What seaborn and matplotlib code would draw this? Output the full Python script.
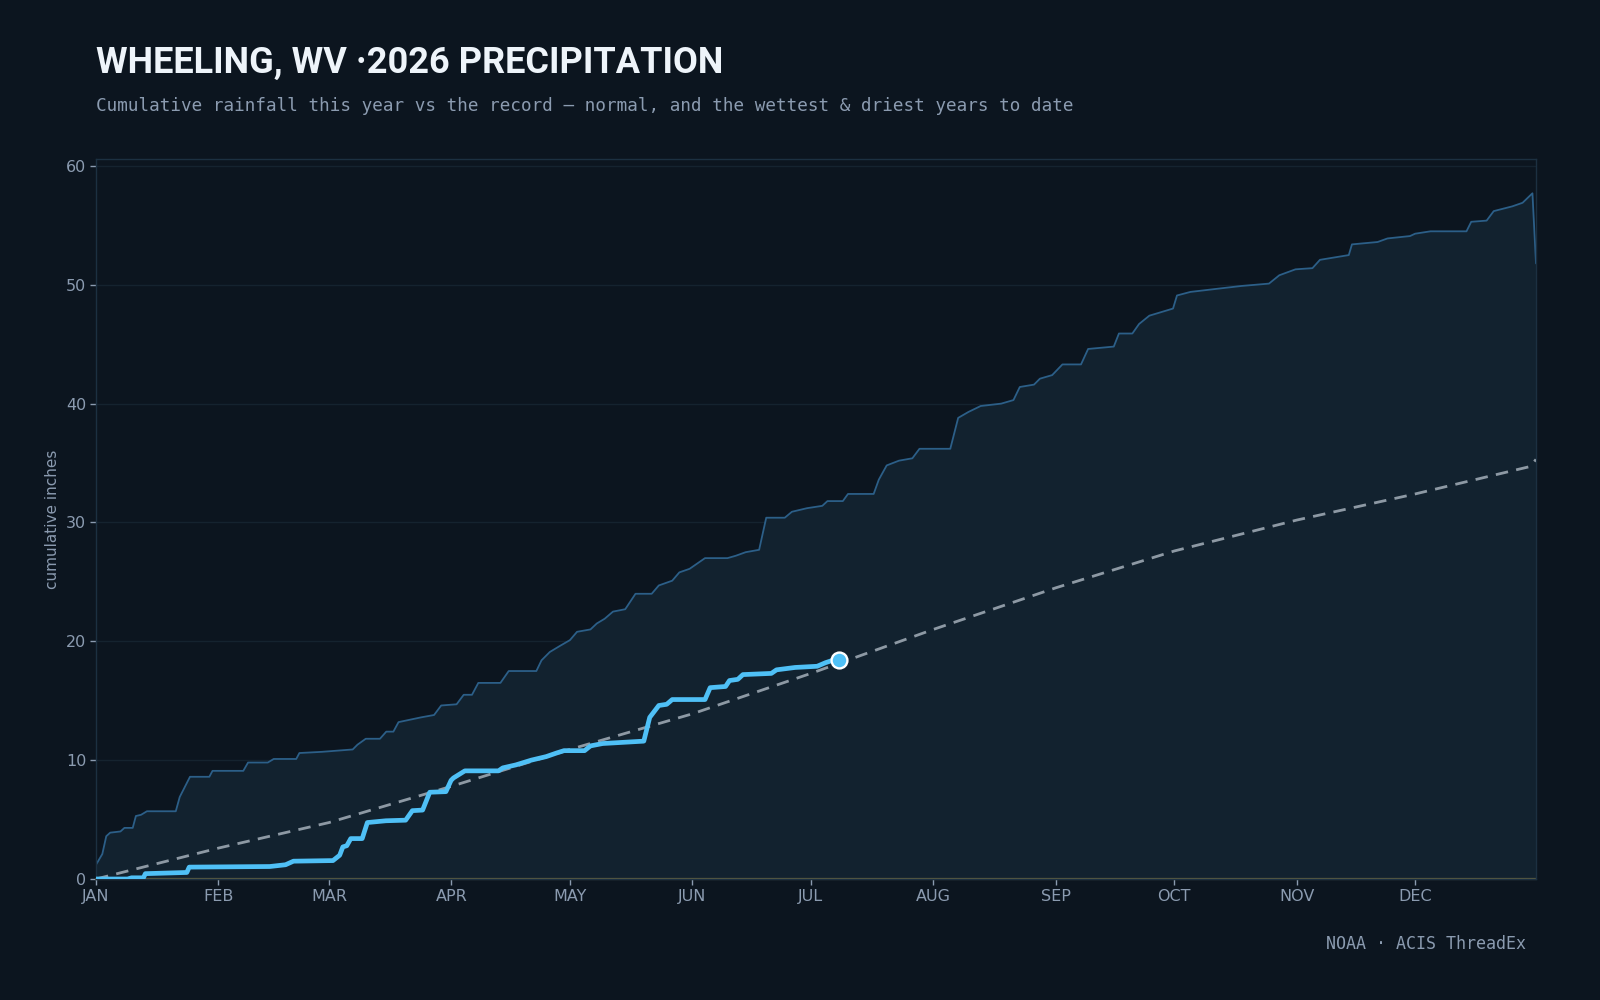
import numpy as np
import pandas as pd
import matplotlib
matplotlib.use("Agg")
import matplotlib.pyplot as plt
import seaborn as sns

# ---------------- data ----------------
month_labels = ["JAN", "FEB", "MAR", "APR", "MAY", "JUN",
                "JUL", "AUG", "SEP", "OCT", "NOV", "DEC"]
month_starts = [0, 31, 59, 90, 120, 151, 181, 212, 243, 273, 304, 334]

wet_day = [0, 1.6, 2.6, 3.6, 6.2, 7.2, 9.3, 10.1, 11.4, 12.9,
           20.2, 21.2, 23.8, 28.7, 29.5, 37.3, 38.5, 43.5, 45.0, 50.7,
           51.5, 57.2, 65.0, 66.2, 68.3, 71.9, 73.5, 75.3, 76.6, 82.3,
           85.6, 87.4, 91.3, 93.1, 95.2, 96.8, 102.4, 104.5, 111.5, 112.8,
           114.9, 117.4, 120.0, 121.8, 125.2, 126.8, 128.8, 130.9, 134.0, 136.6,
           140.7, 142.5, 145.9, 147.7, 150.3, 154.2, 159.9, 162.0, 164.5, 167.9,
           169.7, 174.4, 176.2, 180.0, 183.9, 185.2, 189.1, 190.4, 196.9, 198.2,
           200.2, 203.3, 206.7, 208.5, 216.3, 218.3, 220.9, 224.0, 229.2, 232.3,
           233.9, 237.5, 239.0, 242.1, 244.7, 249.4, 251.2, 257.7, 259.0, 262.4,
           264.1, 266.7, 272.7, 273.7, 277.1, 284.8, 290.0, 297.0, 299.6, 303.7,
           308.0, 309.9, 317.2, 318.0, 324.5, 327.0, 332.7, 334.0, 337.9, 347.0,
           348.2, 352.1, 353.9, 358.6, 361.2, 363.7, 364.6]
wet_val = [1.2, 2.1, 3.6, 3.9, 4.0, 4.3, 4.3, 5.3, 5.4, 5.7,
           5.7, 6.9, 8.6, 8.6, 9.1, 9.1, 9.8, 9.8, 10.1, 10.1,
           10.6, 10.7, 10.9, 11.3, 11.8, 11.8, 12.4, 12.4, 13.2, 13.6,
           13.8, 14.6, 14.7, 15.5, 15.5, 16.5, 16.5, 17.5, 17.5, 18.4,
           19.1, 19.6, 20.1, 20.8, 21.0, 21.5, 21.9, 22.5, 22.7, 24.0,
           24.0, 24.7, 25.1, 25.8, 26.1, 27.0, 27.0, 27.2, 27.5, 27.7,
           30.4, 30.4, 30.9, 31.2, 31.4, 31.8, 31.8, 32.4, 32.4, 33.6,
           34.8, 35.2, 35.4, 36.2, 36.2, 38.8, 39.3, 39.8, 40.0, 40.3,
           41.4, 41.6, 42.1, 42.4, 43.3, 43.3, 44.6, 44.8, 45.9, 45.9,
           46.7, 47.4, 48.0, 49.1, 49.4, 49.7, 49.9, 50.1, 50.8, 51.3,
           51.4, 52.1, 52.5, 53.4, 53.6, 53.9, 54.1, 54.3, 54.5, 54.5,
           55.3, 55.4, 56.2, 56.6, 56.9, 57.7, 51.8]

dry_day = [0, 364.6]
dry_val = [0.0, 0.0]

norm_day = [0, 31, 59, 90, 120, 151, 181, 212, 243, 273, 304, 334, 363, 364.6]
norm_val = [0.0, 2.6, 4.75, 7.8, 10.9, 13.9, 17.3, 21.0, 24.5, 27.6, 30.2, 32.4, 34.7, 35.3]

cur_day = [0, 8, 9, 12, 12.5, 23, 23.6, 44, 48, 50,
           60, 61.7, 62.5, 63.5, 64.5, 67.4, 68.7, 73.4, 78.4, 80.1,
           82.7, 84.5, 88.6, 89.9, 90.5, 93.4, 101.9, 103, 106.3, 110.2,
           114, 116.6, 118.5, 123.7, 125.2, 128.3, 138.7, 140.2, 142.5, 144.5,
           145.9, 154.2, 155.5, 159.4, 160.4, 162.5, 163.8, 171, 172.3, 177,
           182.6, 184.7, 186.5, 188.1]
cur_val = [0, 0, 0.1, 0.1, 0.45, 0.55, 1.0, 1.05, 1.2, 1.5,
           1.55, 2.0, 2.7, 2.8, 3.4, 3.4, 4.75, 4.9, 4.95, 5.75,
           5.8, 7.3, 7.35, 8.3, 8.5, 9.1, 9.1, 9.35, 9.6, 10.0,
           10.3, 10.6, 10.8, 10.8, 11.2, 11.4, 11.6, 13.6, 14.6, 14.7,
           15.1, 15.1, 16.1, 16.2, 16.7, 16.8, 17.2, 17.3, 17.6, 17.8,
           17.9, 18.2, 18.4, 18.4]

title_text = "WHEELING, WV \u00b72026 PRECIPITATION"
subtitle_text = ("Cumulative rainfall this year vs the record \u2014 normal, "
                 "and the wettest & driest years to date")
source_text = "NOAA \u00b7 ACIS ThreadEx"
ylabel_text = "cumulative inches"

# ---------------- style ----------------
BG = "#0c151f"
FILL = "#12222f"
WET = "#2c5f88"
CUR = "#4fc0f6"
NORM = "#8d99a4"
DRY = "#5c5d42"
GRID = "#15232f"
SPINE = "#1c3041"
TXT = "#8b9bb0"
TITLE = "#eef4fa"

sns.set_theme(style="dark")
plt.rcParams.update({
    "figure.facecolor": BG,
    "axes.facecolor": BG,
    "savefig.facecolor": BG,
    "font.family": ["DejaVu Sans"],
})

fig = plt.figure(figsize=(16, 10), dpi=100)
ax = fig.add_axes([0.06, 0.121, 0.90, 0.72])
ax.set_facecolor(BG)

wet_df = pd.DataFrame({"day": wet_day, "inches": wet_val})
norm_df = pd.DataFrame({"day": norm_day, "inches": norm_val})
cur_df = pd.DataFrame({"day": cur_day, "inches": cur_val})
dry_df = pd.DataFrame({"day": dry_day, "inches": dry_val})

# envelope between driest and wettest years
lower = np.interp(wet_df["day"], dry_df["day"], dry_df["inches"])
ax.fill_between(wet_df["day"], lower, wet_df["inches"], color=FILL, lw=0, zorder=1)

sns.lineplot(data=wet_df, x="day", y="inches", ax=ax, color=WET, lw=1.3,
             estimator=None, sort=False, zorder=2)
sns.lineplot(data=dry_df, x="day", y="inches", ax=ax, color=DRY, lw=1.6,
             estimator=None, sort=False, zorder=2, clip_on=False)
sns.lineplot(data=norm_df, x="day", y="inches", ax=ax, color=NORM, lw=2.0,
             estimator=None, sort=False, zorder=3, dashes=False,
             linestyle=(0, (4.5, 3)))
sns.lineplot(data=cur_df, x="day", y="inches", ax=ax, color=CUR, lw=3.4,
             estimator=None, sort=False, zorder=4)
sns.scatterplot(x=[cur_day[-1]], y=[cur_val[-1]], ax=ax, s=130, color=CUR,
                edgecolor="white", linewidth=1.7, zorder=5)

ax.set_xlim(0, max(wet_day))
ax.set_ylim(0, max(wet_val) * 1.05)
ax.set_xticks(month_starts)
ax.set_xticklabels(month_labels)
ax.set_yticks([0, 10, 20, 30, 40, 50, 60])
ax.set_xlabel("")
ax.set_ylabel(ylabel_text, color=TXT, fontsize=11)
ax.yaxis.set_label_coords(-0.025, 0.5)

ax.grid(axis="y", color=GRID, lw=1)
ax.grid(axis="x", visible=False)
ax.set_axisbelow(True)
for side in ["left", "top", "right", "bottom"]:
    ax.spines[side].set_visible(True)
    ax.spines[side].set_color(SPINE)
    ax.spines[side].set_linewidth(1)
ax.tick_params(axis="both", colors=TXT, labelcolor=TXT, labelsize=11.5,
               length=4, width=1, left=True, bottom=True, pad=3)

fig.text(0.06, 0.937, title_text, ha="left", va="center", color=TITLE,
         fontsize=26, fontweight="bold", family=["Roboto", "DejaVu Sans"])
fig.text(0.06, 0.894, subtitle_text, ha="left", va="center", color=TXT,
         fontsize=12.7, family=["DejaVu Sans Mono"])
fig.text(0.954, 0.056, source_text, ha="right", va="center", color=TXT,
         fontsize=12, family=["DejaVu Sans Mono"])

fig.savefig("out.png", dpi=100)
